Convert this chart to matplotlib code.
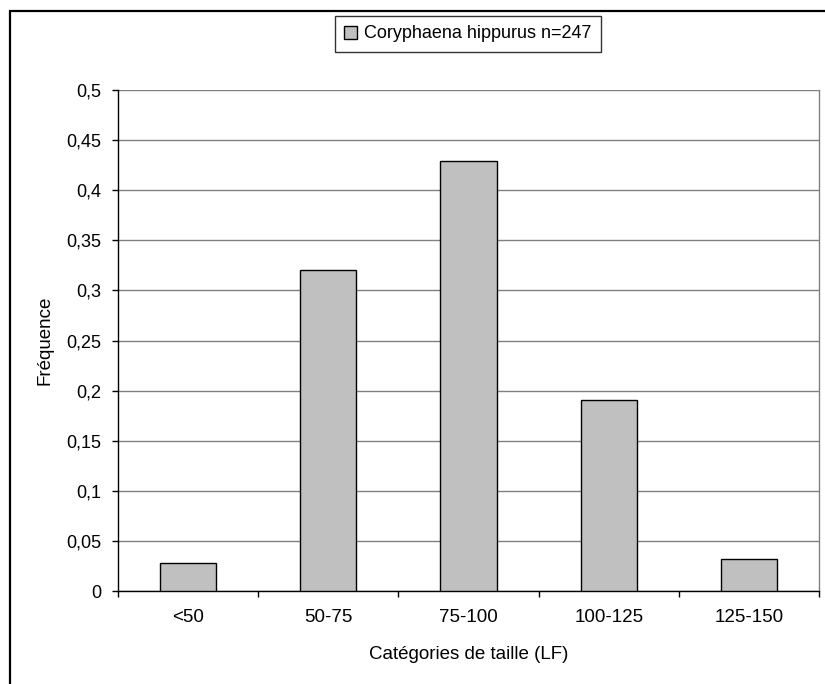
import matplotlib.pyplot as plt
from matplotlib.patches import Rectangle
import numpy as np

categories = ['<50', '50-75', '75-100', '100-125', '125-150']
frequence = [0.028, 0.32, 0.429, 0.191, 0.032]
y_ticks = [0, 0.05, 0.1, 0.15, 0.2, 0.25, 0.3, 0.35, 0.4, 0.45, 0.5]
y_tick_labels = ['0', '0,05', '0,1', '0,15', '0,2', '0,25', '0,3', '0,35', '0,4', '0,45', '0,5']
serie = 'Coryphaena hippurus n=247'

plt.rcParams['font.family'] = ['Liberation Sans', 'DejaVu Sans']

fig = plt.figure(figsize=(8.25, 6.84), dpi=100)
ax = fig.add_axes([118 / 825, 1 - 591 / 684, (819 - 118) / 825, (591 - 90) / 684])

# cadre extérieur du graphique (coupé à droite et en bas)
fig.patches.append(Rectangle((10 / 825, -0.5), 2, 0.5 + 1 - 11 / 684,
                             transform=fig.transFigure, fill=False,
                             edgecolor='black', linewidth=1.6, zorder=0))

x = np.arange(len(categories))
bars = ax.bar(x, frequence, width=0.4, color='#C0C0C0', edgecolor='black',
              linewidth=1.0, label=serie, zorder=3)

ax.set_xlim(-0.5, len(categories) - 0.5)
ax.set_ylim(0, 0.5)
ax.set_yticks(y_ticks)
ax.set_yticklabels(y_tick_labels, fontsize=13)
ax.set_xticks(x)
ax.set_xticklabels(categories, fontsize=13.5)
ax.set_xticks(np.arange(len(categories) + 1) - 0.5, minor=True)

ax.tick_params(axis='x', which='major', length=0, pad=13)
ax.tick_params(axis='x', which='minor', length=4, width=1, direction='out', color='black')
ax.tick_params(axis='y', length=4, width=1, direction='out', pad=8, color='black')

ax.grid(axis='y', color='#808080', linewidth=1.0, zorder=0)
ax.set_axisbelow(True)

ax.spines['top'].set_visible(False)
ax.spines['right'].set_color('#808080')
ax.spines['left'].set_color('black')
ax.spines['bottom'].set_color('black')
for side in ['left', 'bottom', 'right']:
    ax.spines[side].set_linewidth(1.0)

ax.set_ylabel('Fréquence', fontsize=13.5)
ax.yaxis.set_label_coords(-0.092, 0.5)
ax.set_xlabel('Catégories de taille (LF)', fontsize=13.5)
ax.xaxis.set_label_coords(0.5, -0.109)

leg = fig.legend(handles=[bars], labels=[serie], loc='center',
                 bbox_to_anchor=(468 / 825, 1 - 34 / 684), fontsize=13,
                 frameon=True, fancybox=False, handlelength=0.7, handleheight=0.7,
                 handletextpad=0.4, borderpad=0.5)
leg.get_frame().set_edgecolor('black')
leg.get_frame().set_linewidth(1.0)

fig.savefig('out.png', dpi=100)
